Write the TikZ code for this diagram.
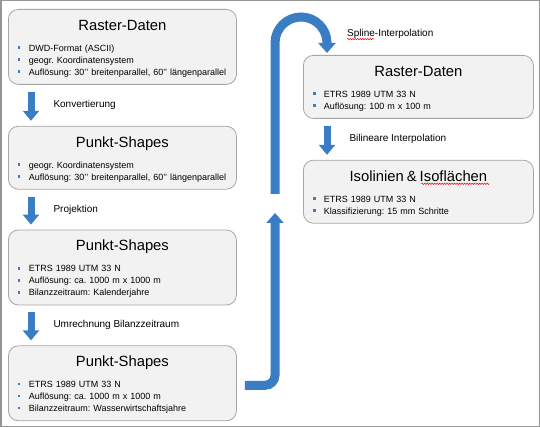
\documentclass[tikz,border=0pt]{standalone}
\usepackage{fontspec}
\setmainfont{Liberation Sans}
\usetikzlibrary{positioning, arrows.meta, decorations.pathmorphing}

\definecolor{boxfill}{RGB}{242,242,242}
\definecolor{boxline}{RGB}{166,166,166}
\definecolor{flowblue}{RGB}{59,125,196}
\definecolor{framegray}{RGB}{150,150,150}

\frenchspacing
\newcommand{\blt}{\textcolor{flowblue}{\rule[2.4pt]{2.6pt}{2.6pt}}\hspace{8.4pt}}
\newcommand{\boxhead}[1]{{\centering\fontsize{14.8}{16}\selectfont\rule{0pt}{21pt}#1\par}\vspace{9pt}}
\newcommand{\boxend}{\rule[-9pt]{0pt}{9pt}}

\begin{document}
\begin{tikzpicture}[
    x=1pt, y=-1pt,
    databox/.style={rectangle, rounded corners=10pt, draw=boxline, fill=boxfill,
      line width=0.8pt, minimum width=228pt, text width=209pt, inner xsep=9.5pt,
      inner ysep=0pt, align=left, font=\fontsize{9}{12}\selectfont},
    lbl/.style={inner sep=0pt, text=black, font=\fontsize{10}{12}\selectfont},
    flowarrow/.style={flowblue, line width=7pt, shorten <=7pt, shorten >=5pt,
      -{Triangle[width=16pt, length=10pt]}},
    bigarrow/.style={flowblue, line width=9pt, -{Triangle[width=17pt, length=10pt]}},
    squiggle/.style={red, line width=0.5pt, decorate,
      decoration={snake, amplitude=0.7pt, segment length=2.5pt}}
  ]

  \useasboundingbox (0,0) rectangle (540,427);
  \draw[framegray, line width=1.5pt] (0.75,0.75) rectangle (539.25,426.25);

  % linke Spalte
  \node[databox, anchor=north west] (rd1) at (8,9) {\boxhead{Raster-Daten}
    \blt DWD-Format (ASCII)\\
    \blt geogr. Koordinatensystem\\
    \blt Auflösung: 30'{}' breitenparallel, 60'{}' längenparallel\boxend};
  \node[databox] (ps1) [below=41pt of rd1] {\boxhead{Punkt-Shapes}
    \blt geogr. Koordinatensystem\\
    \blt Auflösung: 30'{}' breitenparallel, 60'{}' längenparallel\boxend};
  \node[databox] (ps2) [below=40pt of ps1] {\boxhead{Punkt-Shapes}
    \blt ETRS 1989 UTM 33 N\\
    \blt Auflösung: ca. 1000 m x 1000 m\\
    \blt Bilanzzeitraum: Kalenderjahre\boxend};
  \node[databox] (ps3) [below=40pt of ps2] {\boxhead{Punkt-Shapes}
    \blt ETRS 1989 UTM 33 N\\
    \blt Auflösung: ca. 1000 m x 1000 m\\
    \blt Bilanzzeitraum: Wasserwirtschaftsjahre\boxend};

  % rechte Spalte
  \node[databox, minimum width=230pt, text width=211pt, anchor=north west] (rd2) at (303,55) {\boxhead{Raster-Daten}
    \blt ETRS 1989 UTM 33 N\\
    \blt Auflösung: 100 m x 100 m\boxend};
  \node[databox, minimum width=230pt, text width=211pt] (iso) [below=41pt of rd2] {\boxhead{Isolinien \& Isoflächen}
    \blt ETRS 1989 UTM 33 N\\
    \blt Klassifizierung: 15 mm Schritte\boxend};

  % Pfeile links
  \draw[flowarrow] ([xshift=23pt]rd1.south west) -- node[lbl, right=19pt] {Konvertierung} ([xshift=23pt]ps1.north west);
  \draw[flowarrow] ([xshift=23pt]ps1.south west) -- node[lbl, right=19pt] {Projektion} ([xshift=23pt]ps2.north west);
  \draw[flowarrow] ([xshift=23pt]ps2.south west) -- node[lbl, right=19pt] {Umrechnung Bilanzzeitraum} ([xshift=23pt]ps3.north west);

  % Pfeil rechts
  \draw[flowarrow] ([xshift=24pt]rd2.south west) -- node[lbl, right=19pt] {Bilineare Interpolation} ([xshift=24pt]iso.north west);

  % Verbindung unten links -> oben rechts
  \coordinate (gaplow) at (275,213);
  \coordinate (gaphigh) at (275,194);
  \draw[bigarrow, rounded corners=10pt] ([xshift=8pt, yshift=-2pt]ps3.east) -| (gaplow);
  \draw[bigarrow, shorten >=2pt] (gaphigh) -- (275,43) arc[start angle=180, end angle=0, radius=26pt]
    -- ([xshift=24pt]rd2.north west);
  \node[lbl, anchor=west] (lspline) at (347,34) {Spline-Interpolation};

  % Rechtschreibmarkierungen
  \draw[squiggle] ([yshift=-2.5pt]lspline.base west) -- ++(27,0);
  \draw[squiggle] ([xshift=3pt, yshift=-24pt]iso.north) -- ++(68,0);

\end{tikzpicture}
\end{document}
